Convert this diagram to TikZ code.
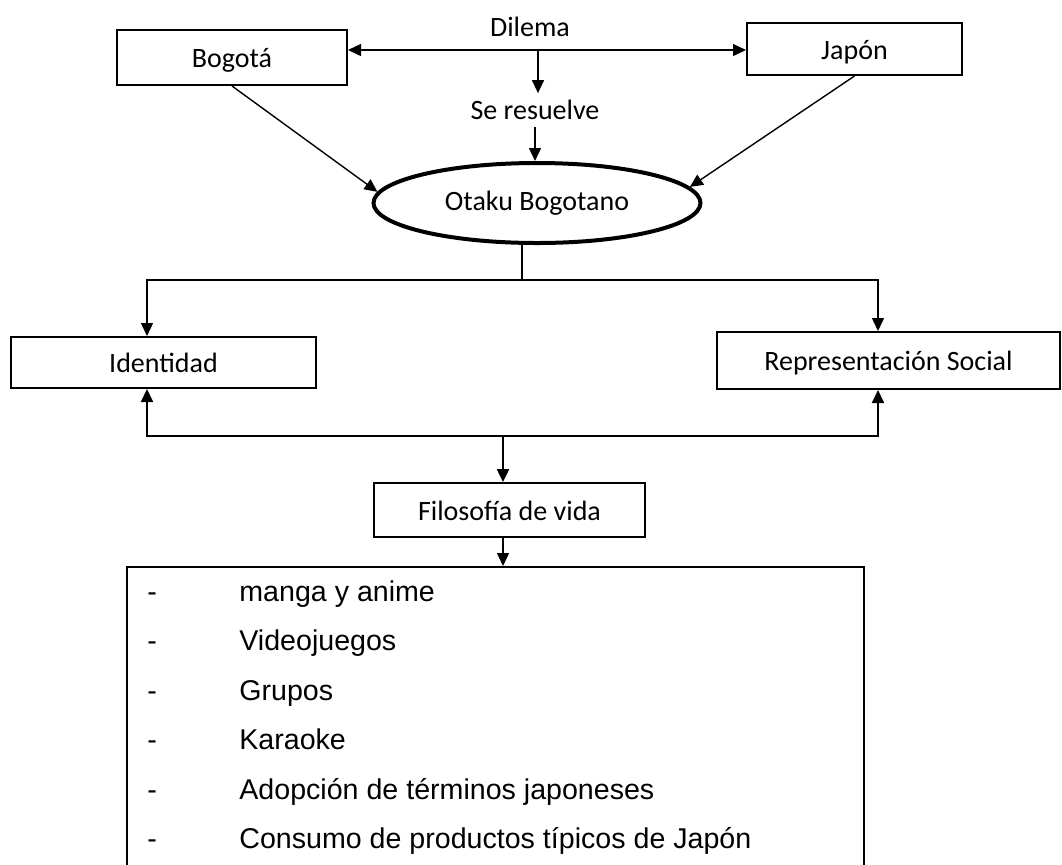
\documentclass[tikz,border=0pt]{standalone}
\usepackage{fontspec}
\setmainfont{Carlito}
\newfontfamily\arialf{Liberation Sans}
\usetikzlibrary{positioning, shapes, arrows.meta, calc}

\begin{document}
\begin{tikzpicture}[x=0.5pt, y=-0.5pt, font=\fontsize{14}{16}\selectfont,
    box/.style={draw, rectangle, line width=1pt, inner sep=0pt, text height=2.1ex, text depth=0pt},
    conn/.style={line width=0.7pt, -{Triangle[length=6.5pt, width=6pt]}},
    lstitem/.style={anchor=base west, inner sep=0pt, font=\arialf\fontsize{14.3}{16}\selectfont}]
      \clip (0,0) rectangle (1062,864);

      % top row
      \node[box, minimum width=115pt, minimum height=27.5pt] (bog) at (232, 57.5) {Bogotá};
      \node[box, minimum width=107.5pt, minimum height=26pt] (jap) at (854.5, 49) {Japón};
      \node (dil) at (530, 27) {Dilema};
      \node (res) at (535, 110) {Se resuelve};
      \node[draw, ellipse, line width=2pt, minimum width=163.5pt, minimum height=40pt, inner sep=0pt] (ota) at (537, 203) {Otaku Bogotano};

      % middle row
      \node[box, minimum width=152.5pt, minimum height=25.5pt] (ide) at (163.5, 362.5) {Identidad};
      \node[box, minimum width=171.5pt, minimum height=28.5pt] (rep) at (888.5, 360.5) {Representación Social};
      \node[box, minimum width=135.5pt, minimum height=27pt] (fil) at (509.5, 510) {Filosofía de vida};

      % list box, open at the bottom
      \node[box, anchor=north, minimum width=368.5pt, minimum height=170pt] (lst) at (495.5, 566) {};
      \node[lstitem] (l1) at (147, 601) {\makebox[46pt][l]{-}manga y anime};
      \node[lstitem] (l2) at (147, 650) {\makebox[46pt][l]{-}Videojuegos};
      \node[lstitem] (l3) at (147, 700) {\makebox[46pt][l]{-}Grupos};
      \node[lstitem] (l4) at (147, 749) {\makebox[46pt][l]{-}Karaoke};
      \node[lstitem] (l5) at (147, 799) {\makebox[46pt][l]{-}Adopción de términos japoneses};
      \node[lstitem] (l6) at (147, 848) {\makebox[46pt][l]{-}Consumo de productos típicos de Japón};

      \coordinate (dl) at (538, 50);
      \coordinate (br1) at (522, 280);
      \coordinate (br2) at (503, 436);
      \coordinate (cl) at (147, 0);
      \coordinate (cr) at (878, 0);

      \draw[conn, {Triangle[length=6.5pt, width=6pt]}-{Triangle[length=6.5pt, width=6pt]}] (bog.east |- dl) -- (jap.west |- dl);
      \draw[conn] (dl) -- (dl |- res.north);
      \draw[conn] (res.south) -- (res.south |- ota.north);
      \draw[conn] (bog.south) -- (ota.176);
      \draw[conn] (jap.south) -- (ota.6);

      \draw[line width=0.7pt] (ota.south -| br1) -- (br1);
      \draw[conn] (br1) -| (cl |- ide.north);
      \draw[conn] (br1) -| (cr |- rep.north);

      \draw[conn, line width=1pt] (br2) -| (cl |- ide.south);
      \draw[conn, line width=1pt] (br2) -| (cr |- rep.south);
      \draw[conn, line width=1.2pt] (br2) -- (br2 |- fil.north);
      \draw[conn] (fil.south -| br2) -- (br2 |- lst.north);
    \end{tikzpicture}
\end{document}
